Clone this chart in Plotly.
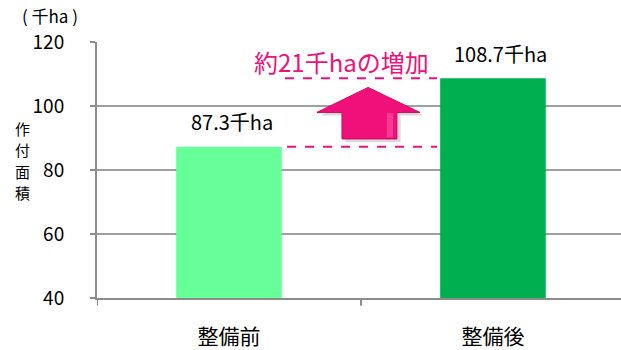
import plotly.graph_objects as go

# 作付面積（千ha）: 整備前 / 整備後
categories = ["整備前", "整備後"]
areas = [87.3, 108.7]
bar_colors = ["#66FF99", "#00B050"]
y_ticks = [40, 60, 80, 100, 120]
y_title = "作付面積"

FONT = "Noto Sans CJK JP, Noto Sans, sans-serif"
PINK = "#F0107A"
AXIS_GRAY = "#8C8C8C"

increase = round(areas[1] - areas[0])

fig = go.Figure()
fig.add_trace(go.Bar(
    x=categories, y=areas, marker=dict(color=bar_colors, line=dict(width=0)),
    width=0.4, showlegend=False, hoverinfo="skip",
))

# value labels above each bar
for i, (c, v) in enumerate(zip(categories, areas)):
    fig.add_annotation(x=c, y=v, text=f"{v}千ha", showarrow=False,
                       yanchor="middle", yshift=25, xshift=3 + 5 * i,
                       font=dict(family=FONT, size=20, color="#000"))

# dashed guides at both bar heights
lo, hi = areas
fig.add_shape(type="line", xref="x", yref="y", x0=0.212, x1=0.788, y0=hi, y1=hi,
              line=dict(color=PINK, width=2, dash="dash"))
fig.add_shape(type="line", xref="x", yref="y", x0=0.22, x1=0.788, y0=lo, y1=lo,
              line=dict(color=PINK, width=2, dash="dash"))

# upward arrow between the guides (shadow, body, highlight)
def arrow_path(dx=0.0, dy=0.0):
    xl, xr = 0.333 + dx, 0.723 + dx
    sl, sr = 0.428 + dx, 0.636 + dx
    tip, sh, base = 105.8 + dy, 98.0 + dy, 89.7 + dy
    xm = 0.527 + dx
    return (f"M {sl},{base} L {sl},{sh} L {xl},{sh} L {xm},{tip} "
            f"L {xr},{sh} L {sr},{sh} L {sr},{base} Z")

fig.add_shape(type="path", xref="x", yref="y", path=arrow_path(0.014, -1.0),
              fillcolor="rgba(0,0,0,0.15)", line=dict(width=0), layer="above")
fig.add_shape(type="path", xref="x", yref="y", path=arrow_path(),
              fillcolor=PINK, line=dict(color="#D8005E", width=1), layer="above")
fig.add_shape(type="path", xref="x", yref="y",
              path="M 0.598,97.8 L 0.622,97.8 L 0.622,90.2 L 0.598,90.2 Z",
              fillcolor="rgba(255,120,185,0.4)", line=dict(width=0), layer="above")

fig.add_annotation(x=0.428, y=113.8, xref="x", yref="y",
                   text=f"約{increase}千haの増加", showarrow=False,
                   font=dict(family=FONT, size=24, color=PINK))

# unit label
fig.add_annotation(xref="paper", yref="paper", x=-0.09, y=1.102,
                   xanchor="center", yanchor="middle",
                   text="( 千ha )", showarrow=False,
                   font=dict(family=FONT, size=17, color="#000"))
# vertical axis title, one character per line
for i, ch in enumerate(y_title):
    fig.add_annotation(xref="paper", yref="paper", x=-0.143,
                       y=(300 - 129 - 21.7 * i) / 258,
                       xanchor="center", yanchor="middle",
                       text=ch, showarrow=False, borderpad=0,
                       font=dict(family=FONT, size=15, color="#000"))

# category boundary ticks below the x axis
for xb in (-0.5, 0.5):
    fig.add_shape(type="line", xref="x", yref="y domain", x0=xb, x1=xb,
                  y0=0, y1=-0.03, line=dict(color=AXIS_GRAY, width=2))

fig.update_layout(
    width=621, height=350,
    margin=dict(l=97, r=0, t=42, b=50),
    plot_bgcolor="white", paper_bgcolor="white",
    font=dict(family=FONT, size=16, color="#000"),
    xaxis=dict(range=[-0.5, 1.485], showline=True, linecolor=AXIS_GRAY,
               linewidth=2, ticks="", tickfont=dict(size=21),
               ticklabelstandoff=19, showgrid=False),
    yaxis=dict(range=[40, 120], tickvals=y_ticks, showline=True,
               linecolor=AXIS_GRAY, linewidth=2, ticks="outside", ticklen=5,
               tickwidth=2, tickcolor=AXIS_GRAY, showgrid=True,
               gridcolor="#A0A0A0", gridwidth=1.5, ticklabelstandoff=22,
               tickfont=dict(size=19), zeroline=False),
)

fig.write_html("out.html")
